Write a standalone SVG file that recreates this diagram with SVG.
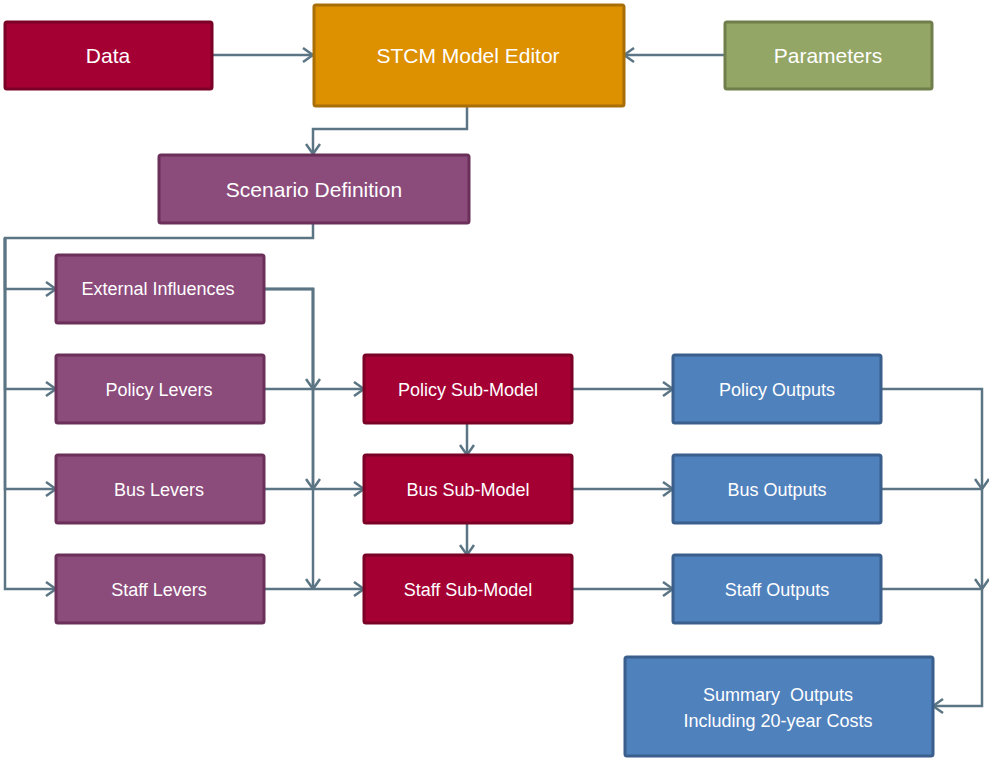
<svg xmlns="http://www.w3.org/2000/svg" width="989" height="758" viewBox="0 0 989 758">
<style>
.box{stroke-width:3}
.red{fill:#a50034;stroke:#7a0026}
.orange{fill:#dd9000;stroke:#a86e08}
.green{fill:#94a666;stroke:#6f7e4b}
.purple{fill:#8b4b7b;stroke:#6a3059}
.blue{fill:#4f81bd;stroke:#3a5f8c}
.lbl{fill:#fff;font-family:"Liberation Sans",Arial,sans-serif;text-anchor:middle}
.big{font-size:21px}
.sm{font-size:18px}
.conn{fill:none;stroke:#5b7584;stroke-width:2.5;marker-end:url(#arr)}
</style>
<defs>
<marker id="arr" viewBox="0 0 12 16" refX="11" refY="8" markerWidth="12" markerHeight="16" markerUnits="userSpaceOnUse" orient="auto">
<path d="M1,1 L11,8 L1,15" fill="none" stroke="#5b7584" stroke-width="2.5"/>
</marker>
</defs>
<rect width="989" height="758" fill="#fff"/>
<g id="connectors">
<path class="conn" d="M212,55 H313"/>
<path class="conn" d="M724,55 H624"/>
<path class="conn" d="M467,106 V129 H313 V154"/>
<path class="conn" d="M313,223 V238 H5 V289 H56"/>
<path class="conn" d="M5,238 V389 H56"/>
<path class="conn" d="M5,238 V489 H56"/>
<path class="conn" d="M5,238 V589 H56"/>
<path class="conn" d="M264,289 H313 V389"/>
<path class="conn" d="M264,289 H313 V489"/>
<path class="conn" d="M264,289 H313 V589"/>
<path class="conn" d="M264,389 H364"/>
<path class="conn" d="M264,489 H364"/>
<path class="conn" d="M264,589 H364"/>
<path class="conn" d="M467,423 V455"/>
<path class="conn" d="M467,523 V555"/>
<path class="conn" d="M572,389 H673"/>
<path class="conn" d="M572,489 H673"/>
<path class="conn" d="M572,589 H673"/>
<path class="conn" d="M881,389 H982 V489"/>
<path class="conn" d="M881,489 H982 V589"/>
<path class="conn" d="M881,589 H982 V706 H933"/>
</g>
<g id="data"><rect class="box red" x="5" y="22" width="207" height="67" rx="2"/><text class="lbl big" x="108" y="63">Data</text></g>
<g id="stcm"><rect class="box orange" x="314" y="5" width="310" height="101" rx="2"/><text class="lbl big" x="468" y="63">STCM Model Editor</text></g>
<g id="parameters"><rect class="box green" x="725" y="22" width="207" height="67" rx="2"/><text class="lbl big" x="828" y="63">Parameters</text></g>
<g id="scenario"><rect class="box purple" x="159" y="155" width="310" height="68" rx="2"/><text class="lbl big" x="314" y="197">Scenario Definition</text></g>
<g id="external"><rect class="box purple" x="56" y="255" width="208" height="68" rx="2"/><text class="lbl sm" x="158" y="295">External Influences</text></g>
<g id="policy-levers"><rect class="box purple" x="56" y="355" width="208" height="68" rx="2"/><text class="lbl sm" x="159" y="396">Policy Levers</text></g>
<g id="bus-levers"><rect class="box purple" x="56" y="455" width="208" height="68" rx="2"/><text class="lbl sm" x="159" y="496">Bus Levers</text></g>
<g id="staff-levers"><rect class="box purple" x="56" y="555" width="208" height="68" rx="2"/><text class="lbl sm" x="159" y="596">Staff Levers</text></g>
<g id="policy-sub"><rect class="box red" x="364" y="355" width="208" height="68" rx="2"/><text class="lbl sm" x="468" y="396">Policy Sub-Model</text></g>
<g id="bus-sub"><rect class="box red" x="364" y="455" width="208" height="68" rx="2"/><text class="lbl sm" x="468" y="496">Bus Sub-Model</text></g>
<g id="staff-sub"><rect class="box red" x="364" y="555" width="208" height="68" rx="2"/><text class="lbl sm" x="468" y="596">Staff Sub-Model</text></g>
<g id="policy-out"><rect class="box blue" x="673" y="355" width="208" height="68" rx="2"/><text class="lbl sm" x="777" y="396">Policy Outputs</text></g>
<g id="bus-out"><rect class="box blue" x="673" y="455" width="208" height="68" rx="2"/><text class="lbl sm" x="777" y="496">Bus Outputs</text></g>
<g id="staff-out"><rect class="box blue" x="673" y="555" width="208" height="68" rx="2"/><text class="lbl sm" x="777" y="596">Staff Outputs</text></g>
<g id="summary"><rect class="box blue" x="625" y="657" width="308" height="99" rx="2"/><text class="lbl sm" x="778" y="701" xml:space="preserve">Summary  Outputs</text><text class="lbl sm" x="778" y="727">Including 20-year Costs</text></g>
</svg>
